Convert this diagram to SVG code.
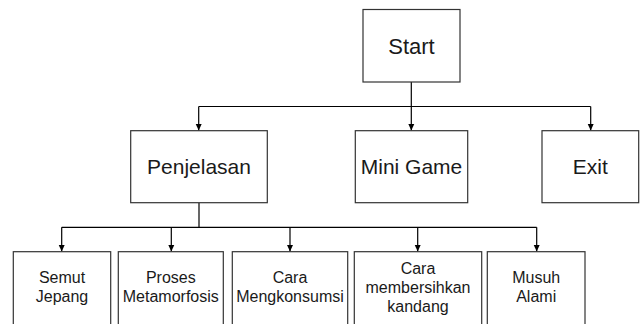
<svg xmlns="http://www.w3.org/2000/svg" width="640" height="324" viewBox="0 0 640 324">
<style>
.box{fill:#fff;stroke:#333;stroke-width:1.2}
.t{font-family:"Liberation Sans",Arial,sans-serif;fill:#1a1a1a;text-anchor:middle}
.l1{font-size:21px}
.l2{font-size:16px}
.c{fill:none;stroke:#000;stroke-width:1.2}
</style>
<defs>
<marker id="ah" markerWidth="8" markerHeight="8" refX="7" refY="4" orient="auto" markerUnits="userSpaceOnUse">
<path d="M0,0.8 L7,4 L0,7.2 Z" fill="#000"/>
</marker>
</defs>
<rect width="640" height="324" fill="#fff"/>
<g id="connectors">
<path class="c" d="M411.3,82 V106.5"/>
<path class="c" d="M198.7,106.5 H590.7"/>
<path class="c" d="M198.7,106.5 V130.5" marker-end="url(#ah)"/>
<path class="c" d="M411.3,106.5 V130.5" marker-end="url(#ah)"/>
<path class="c" d="M590.7,106.5 V130.5" marker-end="url(#ah)"/>
<path class="c" d="M199,203 V227.3"/>
<path class="c" d="M61.7,227.3 H536.7"/>
<path class="c" d="M61.7,227.3 V251.5" marker-end="url(#ah)"/>
<path class="c" d="M171.3,227.3 V251.5" marker-end="url(#ah)"/>
<path class="c" d="M290,227.3 V251.5" marker-end="url(#ah)"/>
<path class="c" d="M417.7,227.3 V251.5" marker-end="url(#ah)"/>
<path class="c" d="M536.7,227.3 V251.5" marker-end="url(#ah)"/>
</g>
<g id="start"><rect class="box" x="363" y="9.5" width="97" height="72.5"/><text class="t" x="411.5" y="53.5" font-size="22">Start</text></g>
<g id="penjelasan"><rect class="box" x="130.7" y="130.7" width="136.6" height="72"/><text class="t l1" x="199" y="174">Penjelasan</text></g>
<g id="minigame"><rect class="box" x="355.3" y="130.7" width="112.4" height="72"/><text class="t l1" x="411.5" y="174">Mini Game</text></g>
<g id="exit"><rect class="box" x="542" y="130.7" width="96.7" height="72"/><text class="t l1" x="590.3" y="174">Exit</text></g>
<g id="semut"><rect class="box" x="13.3" y="251.7" width="97.4" height="80"/><text class="t l2" x="62" y="282.5">Semut</text><text class="t l2" x="62" y="301.5">Jepang</text></g>
<g id="proses"><rect class="box" x="118.3" y="251.7" width="105" height="80"/><text class="t l2" x="170.8" y="282.5">Proses</text><text class="t l2" x="170.8" y="301.5">Metamorfosis</text></g>
<g id="cara1"><rect class="box" x="232.3" y="251.7" width="115.4" height="80"/><text class="t l2" x="290" y="282.5">Cara</text><text class="t l2" x="290" y="301.5">Mengkonsumsi</text></g>
<g id="cara2"><rect class="box" x="354.3" y="251.7" width="127.4" height="80"/><text class="t l2" x="418" y="274">Cara</text><text class="t l2" x="418" y="293">membersihkan</text><text class="t l2" x="418" y="312">kandang</text></g>
<g id="musuh"><rect class="box" x="487.3" y="251.7" width="97.7" height="80"/><text class="t l2" x="536.2" y="282.5">Musuh</text><text class="t l2" x="536.2" y="301.5">Alami</text></g>
</svg>
